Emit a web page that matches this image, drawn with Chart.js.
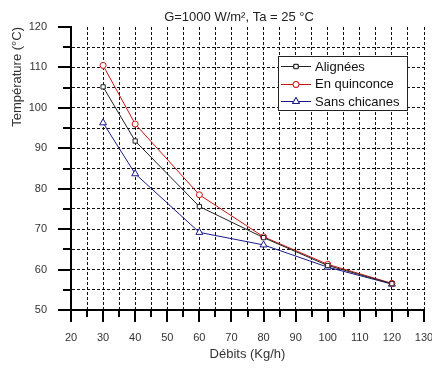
<!DOCTYPE html>
<html><head><meta charset="utf-8">
<script src="https://cdn.jsdelivr.net/npm/chart.js@4/dist/chart.umd.min.js"></script>
<style>html,body{margin:0;padding:0;background:#fff;}#wrap{width:432px;height:369px;position:relative;}</style>
</head><body><div id="wrap"><canvas id="c" width="432" height="369"></canvas></div>
<script>
const debits = [30, 40, 60, 80, 100, 120];
const alignees = [105.2, 91.8, 75.6, 67.9, 61.0, 56.5];
const quinconce = [110.5, 96.0, 78.5, 68.1, 61.3, 56.6];
const sansChicanes = [96.3, 83.7, 69.2, 66.1, 60.6, 56.4];
const seriesNames = ['Alignées', 'En quinconce', 'Sans chicanes'];
const xTickLabels = [20, 30, 40, 50, 60, 70, 80, 90, 100, 110, 120, 130];
const yTickLabels = [50, 60, 70, 80, 90, 100, 110, 120];
const chartTitle = 'G=1000 W/m², Ta = 25 °C';
const xTitle = 'Débits (Kg/h)';
const yTitle = 'Température (°C)';

const FONT = "'Liberation Sans', Arial, sans-serif";
const TXT = '#333';

function pts(xs, ys){ return xs.map((x,i)=>({x:x, y:ys[i]})); }

const decorPlugin = {
  id: 'decor',
  afterDraw(chart){
    const ctx = chart.ctx;
    const xs = chart.scales.x, ys = chart.scales.y;
    const ca = chart.chartArea;
    ctx.save();
    ctx.strokeStyle = '#000';
    ctx.lineWidth = 2;
    // y ticks
    for (let v = ys.min; v <= ys.max; v += 5) {
      const y = Math.round(ys.getPixelForValue(v));
      const major = yTickLabels.includes(v);
      ctx.beginPath();
      ctx.moveTo(ca.left - (major ? 13 : 8), y);
      ctx.lineTo(ca.left, y);
      ctx.stroke();
    }
    // x ticks
    for (let v = xs.min; v <= xs.max; v += 5) {
      const x = Math.round(xs.getPixelForValue(v));
      const major = xTickLabels.includes(v);
      ctx.beginPath();
      ctx.moveTo(x, ca.bottom);
      ctx.lineTo(x, ca.bottom + (major ? 12 : 7));
      ctx.stroke();
    }
    // title
    ctx.fillStyle = '#222';
    ctx.font = '13px ' + FONT;
    ctx.textAlign = 'center';
    ctx.textBaseline = 'middle';
    ctx.fillText(chartTitle, 239, 17);
    // legend
    const lx = 278, ly = 56, lw = 129, lh = 54;
    ctx.fillStyle = '#fff';
    ctx.fillRect(lx, ly, lw, lh);
    ctx.lineWidth = 1;
    ctx.strokeStyle = '#222';
    ctx.strokeRect(lx + 0.5, ly + 0.5, lw, lh);
    chart.data.datasets.forEach((ds, i) => {
      const ry = ly + 10 + i * 17.5;
      ctx.strokeStyle = ds.borderColor;
      ctx.lineWidth = 1;
      ctx.beginPath();
      ctx.moveTo(lx + 3, Math.round(ry) + 0.5);
      ctx.lineTo(lx + 33, Math.round(ry) + 0.5);
      ctx.stroke();
      ctx.fillStyle = '#fff';
      Chart.helpers.drawPoint(ctx, {pointStyle: ds.pointStyle, radius: ds.pointRadius, borderWidth: 1, rotation: 0}, lx + 18, Math.round(ry) + 0.5);
      ctx.fill();
      ctx.stroke();
      ctx.fillStyle = '#111';
      ctx.font = '13px ' + FONT;
      ctx.textAlign = 'left';
      ctx.textBaseline = 'middle';
      ctx.fillText(ds.label, lx + 37, ry + 1);
    });
    ctx.restore();
  }
};

const mk = (label, data, color, style, r) => ({
  label, data: pts(debits, data), borderColor: color, backgroundColor: '#fff',
  borderWidth: 1, pointStyle: style, pointRadius: r, pointBorderWidth: 1,
  pointBackgroundColor: '#fff', pointBorderColor: color, tension: 0, fill: false
});

new Chart(document.getElementById('c'), {
  type: 'line',
  data: {
    datasets: [
      mk(seriesNames[0], alignees, '#222222', 'rect', 3),
      mk(seriesNames[1], quinconce, '#cc1111', 'circle', 3),
      mk(seriesNames[2], sansChicanes, '#1a1a8c', 'triangle', 4)
    ]
  },
  options: {
    responsive: false, animation: false, devicePixelRatio: 1,
    layout: { padding: { top: 27, right: 8, left: 0, bottom: 0 } },
    plugins: { legend: { display: false }, tooltip: { enabled: false }, title: { display: false } },
    scales: {
      x: {
        type: 'linear', min: 20, max: 130,
        ticks: { stepSize: 5, autoSkip: false, maxRotation: 0, padding: 21, color: TXT,
          font: { family: FONT, size: 11 },
          callback: v => xTickLabels.includes(v) ? String(v) : '' },
        grid: { drawTicks: false, lineWidth: 1,
          color: c => (c.tick && c.tick.value === 20) ? 'rgba(0,0,0,0)' : '#111' },
        border: { display: true, color: '#000', width: 2, dash: [3, 2] },
        title: { display: true, text: xTitle, color: TXT, font: { family: FONT, size: 13 }, padding: { top: 0, bottom: 7 } },
        afterFit: s => { s.paddingRight = 0; s.paddingLeft = 0; s.height = 59; }
      },
      y: {
        type: 'linear', min: 50, max: 120,
        ticks: { stepSize: 5, autoSkip: false, padding: 24, color: TXT,
          font: { family: FONT, size: 11 },
          callback: v => yTickLabels.includes(v) ? String(v) : '' },
        grid: { drawTicks: false, lineWidth: 1,
          color: c => (c.tick && (c.tick.value === 120 || c.tick.value === 50)) ? 'rgba(0,0,0,0)' : '#111' },
        border: { display: true, color: '#000', width: 2, dash: [3, 2] },
        title: { display: true, text: yTitle, align: 'end', color: TXT, font: { family: FONT, size: 13 }, padding: { top: 10, bottom: 0 } },
        afterFit: s => { s.width = 71; s.paddingTop = 0; s.paddingBottom = 0; }
      }
    }
  },
  plugins: [decorPlugin]
});
</script></body></html>
